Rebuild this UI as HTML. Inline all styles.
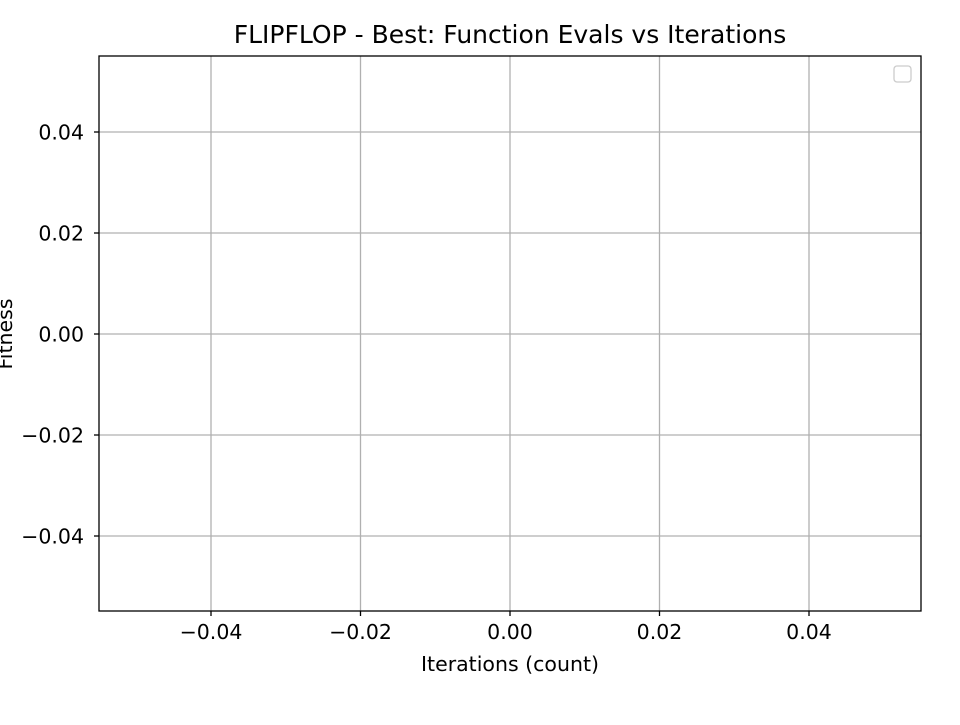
<!DOCTYPE html>
<html><head><meta charset="utf-8"><style>
body{margin:0;background:#fff;}
svg text{font-family:"DejaVu Sans","Liberation Sans",sans-serif;fill:#000;}
</style></head><body>
<svg id="chart" width="960" height="720" xmlns="http://www.w3.org/2000/svg">
<rect width="960" height="720" fill="#fff"/>
<g id="grid"></g><g id="ticks"></g>
<rect x="99" y="56" width="822" height="555" fill="none" stroke="#000" stroke-width="1.3"/>
<rect x="894" y="66" width="17" height="16" rx="3" fill="#fff" stroke="#ccc" stroke-width="1.3"/>
<text x="510" y="43" font-size="25" text-anchor="middle">FLIPFLOP - Best: Function Evals vs Iterations</text>
<text x="510" y="671" font-size="20.5" text-anchor="middle">Iterations (count)</text>
<text transform="translate(12,334) rotate(-90)" font-size="20.5" text-anchor="middle">Fitness</text>
</svg>
<script>
const xTicks=[-0.04,-0.02,0,0.02,0.04];
const yTicks=[0.04,0.02,0,-0.02,-0.04];
const xLabels=["\u22120.04","\u22120.02","0.00","0.02","0.04"];
const yLabels=["0.04","0.02","0.00","\u22120.02","\u22120.04"];
const seriesX=[];
const seriesY=[];
const NS="http://www.w3.org/2000/svg";
function xs(v){return 510+v*7475;}
function ys(v){return 334-v*5050;}
const grid=document.getElementById('grid'),ticks=document.getElementById('ticks');
function mk(tag,attrs,parent){const e=document.createElementNS(NS,tag);for(const k in attrs)e.setAttribute(k,attrs[k]);parent.appendChild(e);return e;}
xTicks.forEach((v,i)=>{const x=xs(v);
const g=mk('line',{x1:x,x2:x,y1:56,y2:611,stroke:'#b0b0b0','stroke-width':1.3},grid);


mk('line',{x1:x,x2:x,y1:611,y2:616,stroke:'#000','stroke-width':1.3},ticks);
const t=mk('text',{x:x,y:639,'font-size':20.5,'text-anchor':'middle'},ticks);t.textContent=xLabels[i];

});
yTicks.forEach((v,i)=>{const y=ys(v);
const g=mk('line',{x1:99,x2:921,y1:y,y2:y,stroke:'#b0b0b0','stroke-width':1.3},grid);


mk('line',{x1:94,x2:99,y1:y,y2:y,stroke:'#000','stroke-width':1.3},ticks);
const t=mk('text',{x:84,y:y+7.5,'font-size':20.5,'text-anchor':'end'},ticks);t.textContent=yLabels[i];

});
if(seriesX.length){const p=mk('polyline',{points:seriesX.map((v,i)=>xs(v)+','+ys(seriesY[i])).join(' '),fill:'none',stroke:'#1f77b4','stroke-width':2},document.getElementById('chart'));

}
</script>
</body></html>
